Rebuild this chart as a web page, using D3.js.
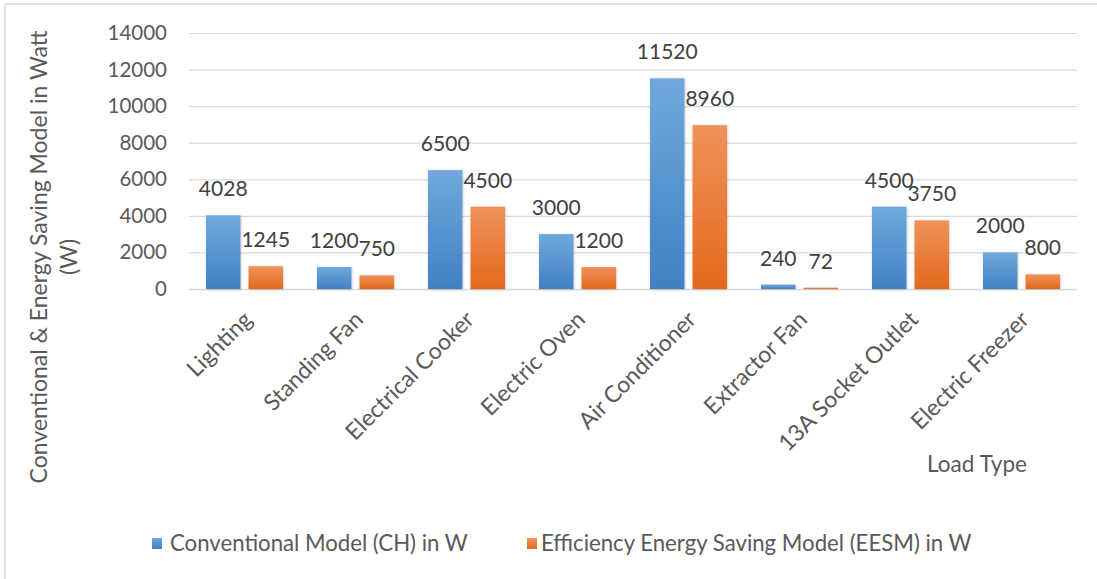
<!DOCTYPE html>
<html>
<head>
<meta charset="utf-8">
<script src="https://cdn.jsdelivr.net/npm/d3@7"></script>
<style>
  body { margin: 0; background: #fff; }
  svg text { font-family: Lato, "Open Sans", sans-serif; }
  .tick text { fill: #595959; font-size: 20.5px; }
  .lbl { fill: #404040; font-size: 21px; }
</style>
</head>
<body>
<svg></svg>
<script>
// chart values
var categories = ["Lighting", "Standing Fan", "Electrical Cooker", "Electric Oven",
  "Air Conditioner", "Extractor Fan", "13A Socket Outlet", "Electric Freezer"];
var conventional = [4028, 1200, 6500, 3000, 11520, 240, 4500, 2000];
var efficient = [1245, 750, 4500, 1200, 8960, 72, 3750, 800];
var seriesNames = ["Conventional Model (CH) in W", "Efficiency Energy Saving Model (EESM) in W"];
var yTicks = [0, 2000, 4000, 6000, 8000, 10000, 12000, 14000];

var width = 1097, height = 579;

var svg = d3.select("svg").attr("width", width).attr("height", height);

var defs = svg.append("defs");
var grads = [["gBlue", "#70a8dd", "#4181c3"], ["gOrange", "#f0925b", "#e2691c"]];
grads.forEach(function(g) {
  var lg = defs.append("linearGradient").attr("id", g[0])
    .attr("x1", 0).attr("y1", 0).attr("x2", 0).attr("y2", 1);
  lg.append("stop").attr("offset", "0%").attr("stop-color", g[1]);
  lg.append("stop").attr("offset", "100%").attr("stop-color", g[2]);
});
var sh = defs.append("filter").attr("id", "shadow")
  .attr("x", "-20%").attr("y", "-5%").attr("width", "140%").attr("height", "110%");
sh.append("feDropShadow").attr("dx", 0.5).attr("dy", 0.5).attr("stdDeviation", 1)
  .attr("flood-color", "#000").attr("flood-opacity", 0.25);

// outer chart border
svg.append("rect")
  .attr("x", 5).attr("y", 4).attr("width", width + 10).attr("height", height + 10)
  .attr("fill", "none").attr("stroke", "#d9d9d9").attr("stroke-width", 1.5);

var x0 = d3.scaleBand()
  .domain(categories)
  .range([189, 1077])
  .padding(0);

var x1 = d3.scaleBand()
  .domain([0, 1])
  .range([0, x0.bandwidth()])
  .paddingInner(0.19)
  .paddingOuter(0.4);

var y = d3.scaleLinear()
  .domain([0, 14000])
  .range([289, 33]);

// gridlines + y labels
var yAxis = d3.axisLeft(y).tickValues(yTicks).tickFormat(d3.format("d"))
  .tickSize(-(1077 - 189)).tickPadding(22);
var gy = svg.append("g")
  .attr("transform", "translate(189,0)")
  .call(yAxis);
gy.select(".domain").remove();
gy.selectAll(".tick line").attr("stroke", "#d9d9d9").attr("stroke-width", 1.2);

// x axis line
svg.append("line")
  .attr("x1", 189).attr("x2", 1077)
  .attr("y1", y(0) + 0.5).attr("y2", y(0) + 0.5)
  .attr("stroke", "#d9d9d9").attr("stroke-width", 1.5);

var rows = categories.map(function(c, i) {
  return {cat: c, vals: [conventional[i], efficient[i]]};
});

var group = svg.selectAll("g.grp")
  .data(rows)
  .enter().append("g")
  .attr("class", "grp")
  .attr("transform", function(d) { return "translate(" + x0(d.cat) + ",0)"; });

group.selectAll("rect")
  .data(function(d) { return d.vals; })
  .enter().append("rect")
  .attr("x", function(d, i) { return x1(i); })
  .attr("y", function(d) { return y(d); })
  .attr("width", x1.bandwidth())
  .attr("height", function(d) { return y(0) - y(d); })
  .attr("fill", function(d, i) { return i === 0 ? "url(#gBlue)" : "url(#gOrange)"; })
  .attr("filter", "url(#shadow)");

group.selectAll("text.lbl")
  .data(function(d) { return d.vals; })
  .enter().append("text")
  .attr("class", "lbl")
  .attr("x", function(d, i) { return x1(i) + x1.bandwidth() / 2; })
  .attr("y", function(d) { return y(d) - 19; })
  .attr("text-anchor", "middle")
  .text(function(d) { return d; });

// x category labels
svg.selectAll("text.cat")
  .data(categories)
  .enter().append("text")
  .attr("class", "cat")
  .attr("transform", function(d) {
    return "translate(" + (x0(d) + x0.bandwidth() / 2 + 9) + ",321) rotate(-45)";
  })
  .attr("text-anchor", "end")
  .attr("fill", "#595959")
  .attr("font-size", "23px")
  .text(function(d) { return d; });

// axis titles
svg.append("text")
  .attr("x", 977).attr("y", 472)
  .attr("text-anchor", "middle")
  .attr("fill", "#595959").attr("font-size", "22.5px")
  .text("Load Type");

var yt = svg.append("text")
  .attr("transform", "translate(47,257) rotate(-90)")
  .attr("text-anchor", "middle")
  .attr("fill", "#595959").attr("font-size", "23px");
yt.append("tspan").attr("x", 0).attr("y", 0).text("Conventional & Energy Saving Model in Watt");
yt.append("tspan").attr("x", 0).attr("y", 30).text("(W)");

// legend
var legX = [152, 527];
var leg = svg.selectAll("g.leg")
  .data(seriesNames)
  .enter().append("g")
  .attr("class", "leg")
  .attr("transform", function(d, i) { return "translate(" + legX[i] + ",538)"; });
leg.append("rect")
  .attr("width", 10).attr("height", 11)
  .attr("fill", function(d, i) { return i === 0 ? "url(#gBlue)" : "url(#gOrange)"; });
leg.append("text")
  .attr("x", function(d, i) { return i === 0 ? 18 : 14; })
  .attr("y", 13)
  .attr("fill", "#595959").attr("font-size", "22.2px")
  .text(function(d) { return d; });
</script>
</body>
</html>
